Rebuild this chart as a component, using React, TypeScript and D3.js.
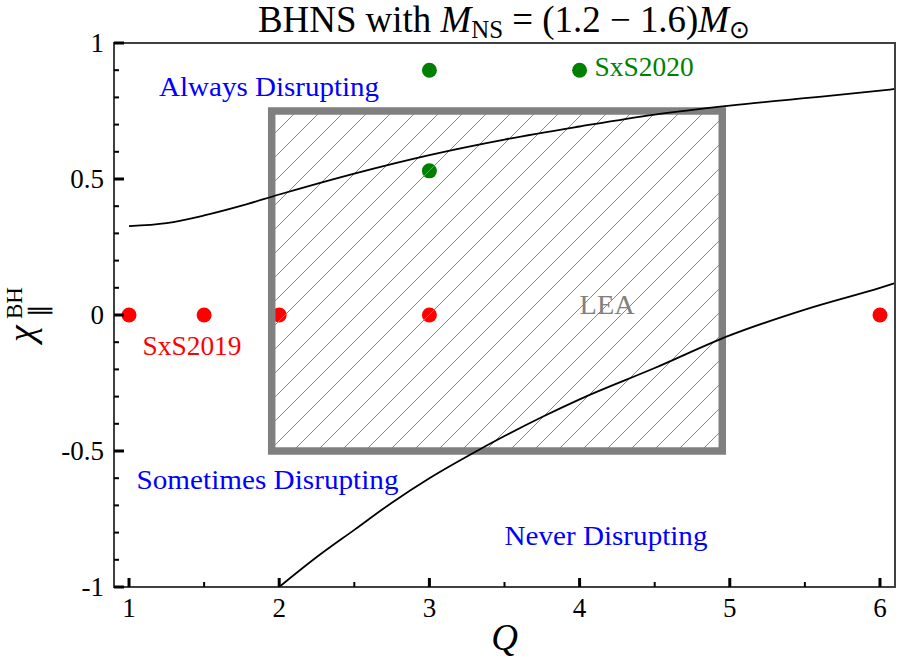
import * as d3 from "d3";

// upper boundary: always / sometimes disrupting
const upperQ = [1, 1.25, 1.5, 1.75, 2, 2.5, 3, 3.5, 4, 4.5, 5, 5.5, 6, 6.1];
const upperChi = [0.327, 0.338, 0.366, 0.402, 0.443, 0.52, 0.588, 0.645, 0.693, 0.737, 0.77, 0.797, 0.825, 0.831];

// lower boundary: sometimes / never disrupting
const lowerQ = [1, 2, 2.25, 2.5, 2.75, 3, 3.25, 3.5, 3.75, 4, 4.5, 5, 5.5, 6, 6.1];
const lowerChi = [-1, -1, -0.89, -0.79, -0.69, -0.6, -0.52, -0.445, -0.375, -0.31, -0.195, -0.075, 0.02, 0.1, 0.117];

const sxs2019Q = [1, 1.5, 2, 3, 6];
const sxs2019Chi = [0, 0, 0, 0, 0];
const sxs2020Q = [3, 4, 3];
const sxs2020Chi = [0.9, 0.9, 0.53];

// LEA region
const leaQ = [1.95, 4.95];
const leaChi = [-0.5, 0.75];

const xMajor = [1, 2, 3, 4, 5, 6];
const xMinor = [1.5, 2.5, 3.5, 4.5, 5.5];
const yMajor = [1, 0.5, 0, -0.5, -1];
const yMajorLabels = ["1", "0.5", "0", "-0.5", "-1"];
const yMinor = [0.9, 0.8, 0.7, 0.6, 0.4, 0.3, 0.2, 0.1, -0.1, -0.2, -0.3, -0.4, -0.6, -0.7, -0.8, -0.9];

const WIDTH = 902;
const HEIGHT = 666;
const PLOT = { left: 114, right: 895, top: 43, bottom: 587 };
const FONT = "'Liberation Serif', 'Times New Roman', serif";
const FRAME = "#404040";

export default function App() {
  const x = d3.scaleLinear().domain([0.9, 6.1]).range([PLOT.left, PLOT.right]);
  const y = d3.scaleLinear().domain([-1, 1]).range([PLOT.bottom, PLOT.top]);

  const line = d3
    .line<[number, number]>()
    .x((d) => x(d[0]))
    .y((d) => y(d[1]))
    .curve(d3.curveMonotoneX);
  const straight = d3
    .line<[number, number]>()
    .x((d) => x(d[0]))
    .y((d) => y(d[1]));

  const upper = upperQ.map((q, i) => [q, upperChi[i]] as [number, number]);
  const lower = lowerQ.map((q, i) => [q, lowerChi[i]] as [number, number]);
  const lowerFlat = lower.filter((d) => d[0] <= 2);
  const lowerRise = lower.filter((d) => d[0] >= 2);

  const rx = x(leaQ[0]);
  const ry = y(leaChi[1]);
  const rw = x(leaQ[1]) - x(leaQ[0]);
  const rh = y(leaChi[0]) - y(leaChi[1]);

  return (
    <svg
      width={WIDTH}
      height={HEIGHT}
      style={{ position: "absolute", left: 0, top: 0, background: "#fff" }}
      fontFamily={FONT}
    >
      <defs>
        <pattern id="hatch" patternUnits="userSpaceOnUse" width={24} height={24}>
          <path d="M0,24 L24,0 M-6,6 L6,-6 M18,30 L30,18" stroke="#888" strokeWidth={1} />
        </pattern>
        <clipPath id="plot-clip">
          <rect x={PLOT.left} y={PLOT.top} width={PLOT.right - PLOT.left} height={PLOT.bottom - PLOT.top} />
        </clipPath>
      </defs>

      <rect x={0} y={0} width={WIDTH} height={HEIGHT} fill="#fff" />

      {/* title */}
      <text x={258} y={32} fontSize={37} textLength={492} lengthAdjust="spacingAndGlyphs">
        BHNS with <tspan fontStyle="italic">M</tspan>
        <tspan fontSize={25} dy={6}>NS</tspan>
        <tspan dy={-6}> = (1.2 − 1.6)</tspan>
        <tspan fontStyle="italic">M</tspan>
        <tspan fontSize={25} dy={6}>⊙</tspan>
      </text>

      <g clipPath="url(#plot-clip)">
        {/* points under the LEA box */}
        {sxs2019Q.map((q, i) => (
          <circle key={`r${i}`} cx={x(q)} cy={y(sxs2019Chi[i])} r={7.5} fill="#ff0000" />
        ))}
        {sxs2020Q.map((q, i) => (
          <circle key={`g${i}`} cx={x(q)} cy={y(sxs2020Chi[i])} r={7.5} fill="#008000" />
        ))}

        <rect x={rx} y={ry} width={rw} height={rh} fill="url(#hatch)" stroke="#808080" strokeWidth={7.5} />

        <path d={line(upper) ?? ""} fill="none" stroke="#000" strokeWidth={1.8} />
        <path d={straight(lowerFlat) ?? ""} fill="none" stroke="#000" strokeWidth={1.8} />
        <path d={line(lowerRise) ?? ""} fill="none" stroke="#000" strokeWidth={1.8} />
      </g>

      {/* annotations */}
      <text x={x(1.2)} y={y(0.805)} fontSize={27} fill="#0000ff" textLength={220} lengthAdjust="spacingAndGlyphs">
        Always Disrupting
      </text>
      <text x={x(1.05)} y={y(-0.64)} fontSize={27} fill="#0000ff" textLength={262} lengthAdjust="spacingAndGlyphs">
        Sometimes Disrupting
      </text>
      <text x={x(3.5)} y={y(-0.846)} fontSize={27} fill="#0000ff" textLength={203} lengthAdjust="spacingAndGlyphs">
        Never Disrupting
      </text>
      <text x={x(1.09)} y={y(-0.147)} fontSize={27} fill="#ff0000" textLength={99} lengthAdjust="spacingAndGlyphs">
        SxS2019
      </text>
      <text x={x(4.1)} y={y(0.879)} fontSize={27} fill="#008000" textLength={99} lengthAdjust="spacingAndGlyphs">
        SxS2020
      </text>
      <text x={x(4.0)} y={y(0.004)} fontSize={27} fill="#808080" textLength={55} lengthAdjust="spacingAndGlyphs">
        LEA
      </text>

      {/* frame */}
      <rect
        x={PLOT.left}
        y={PLOT.top}
        width={PLOT.right - PLOT.left}
        height={PLOT.bottom - PLOT.top}
        fill="none"
        stroke={FRAME}
        strokeWidth={2}
      />

      {/* y ticks */}
      {yMajor.map((v, i) => (
        <g key={`ym${i}`}>
          <line x1={PLOT.left} x2={PLOT.left + 10} y1={y(v)} y2={y(v)} stroke="#000" strokeWidth={3} />
          <text x={104} y={y(v) + 9} fontSize={27} textAnchor="end">
            {yMajorLabels[i]}
          </text>
        </g>
      ))}
      {yMinor.map((v, i) => (
        <line key={`yn${i}`} x1={PLOT.left} x2={PLOT.left + 5} y1={y(v)} y2={y(v)} stroke="#000" strokeWidth={2} />
      ))}

      {/* x ticks */}
      {xMajor.map((v, i) => (
        <g key={`xm${i}`}>
          <line x1={x(v)} x2={x(v)} y1={PLOT.bottom} y2={PLOT.bottom - 9} stroke="#000" strokeWidth={3} />
          <text x={x(v)} y={617} fontSize={27} textAnchor="middle">
            {v}
          </text>
        </g>
      ))}
      {xMinor.map((v, i) => (
        <line key={`xn${i}`} x1={x(v)} x2={x(v)} y1={PLOT.bottom} y2={PLOT.bottom - 5} stroke="#000" strokeWidth={2} />
      ))}

      {/* axis labels */}
      <text x={(PLOT.left + PLOT.right) / 2} y={650} fontSize={37} fontStyle="italic" textAnchor="middle">
        Q
      </text>
      <g transform={`translate(34,${(PLOT.top + PLOT.bottom) / 2}) rotate(-90)`}>
        <text x={-27} y={0} fontSize={38} fontStyle="italic">
          χ
        </text>
        <text x={-4} y={-12} fontSize={23}>
          BH
        </text>
        <text x={-2} y={13} fontSize={25}>
          ∥
        </text>
      </g>
    </svg>
  );
}
